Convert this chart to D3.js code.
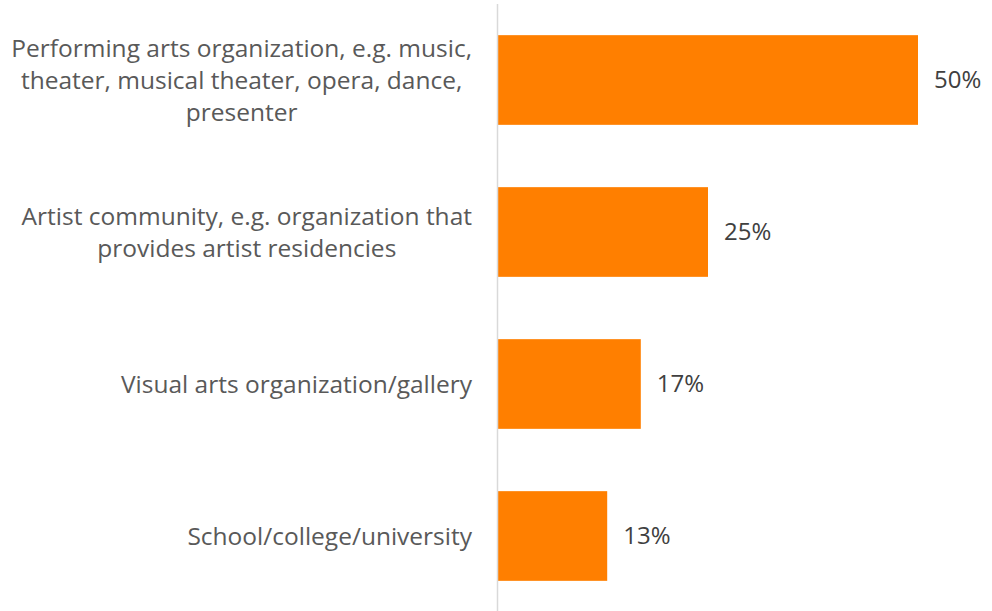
<!DOCTYPE html>
<html>
<head>
<meta charset="utf-8">
<script src="https://cdn.jsdelivr.net/npm/d3@7"></script>
<style>
  body { margin: 0; background: #fff; }
  svg { display: block; }
</style>
</head>
<body>
<svg id="chart" width="992" height="611"></svg>
<script>
// category labels (already broken into lines like the original)
const categories = [
  ["Performing arts organization, e.g. music,", "theater, musical theater, opera, dance,", "presenter"],
  ["Artist community, e.g. organization that", "provides artist residencies"],
  ["Visual arts organization/gallery"],
  ["School/college/university"]
]
const values = [50, 25, 17, 13]
const valueLabels = ["50%", "25%", "17%", "13%"]

const width = 992
const height = 611
const axisX = 497.5
const labelRight = 472
const lineGap = 32

let svg = d3.select("#chart")
let keys = categories.map((d, i) => i)

let yScale = d3.scaleBand()
               .domain(keys)
               .range([4, 612])
               .paddingInner(0.41)
               .paddingOuter(0.205)

let xScale = d3.scaleLinear()
               .domain([0, 50])
               .range([498, 918])

// bars
svg.selectAll('rect')
  .data(values)
  .enter()
  .append('rect')
    .attr('x', xScale(0))
    .attr('y', (d, i) => yScale(i))
    .attr('width', d => xScale(d) - xScale(0))
    .attr('height', yScale.bandwidth())
    .attr('fill', '#FF7F00')

// vertical axis line
svg.append('line')
  .attr('x1', axisX).attr('x2', axisX)
  .attr('y1', 4).attr('y2', height)
  .attr('stroke', '#d9d9d9')
  .attr('stroke-width', 1.5)

// category labels: lines centred on each other, block right aligned
categories.forEach((lines, i) => {
  let g = svg.append('g')
  let cy = yScale(i) + yScale.bandwidth() / 2
  let texts = lines.map((t, j) =>
    g.append('text')
      .attr('y', cy + (j - (lines.length - 1) / 2) * lineGap)
      .attr('dy', '0.35em')
      .attr('text-anchor', 'middle')
      .attr('font-family', 'Open Sans')
      .attr('font-size', 24.5)
      .attr('fill', '#595959')
      .text(t))
  let maxW = d3.max(texts, t => t.node().getComputedTextLength())
  texts.forEach(t => t.attr('x', labelRight - maxW / 2))
})

// value labels
svg.selectAll('.val')
  .data(values)
  .enter()
  .append('text')
    .attr('class', 'val')
    .attr('x', d => xScale(d) + 16)
    .attr('y', (d, i) => yScale(i) + yScale.bandwidth() / 2)
    .attr('dy', '0.35em')
    .attr('font-family', 'Open Sans')
    .attr('font-size', 24)
    .attr('fill', '#404040')
    .text((d, i) => valueLabels[i])
</script>
</body>
</html>
